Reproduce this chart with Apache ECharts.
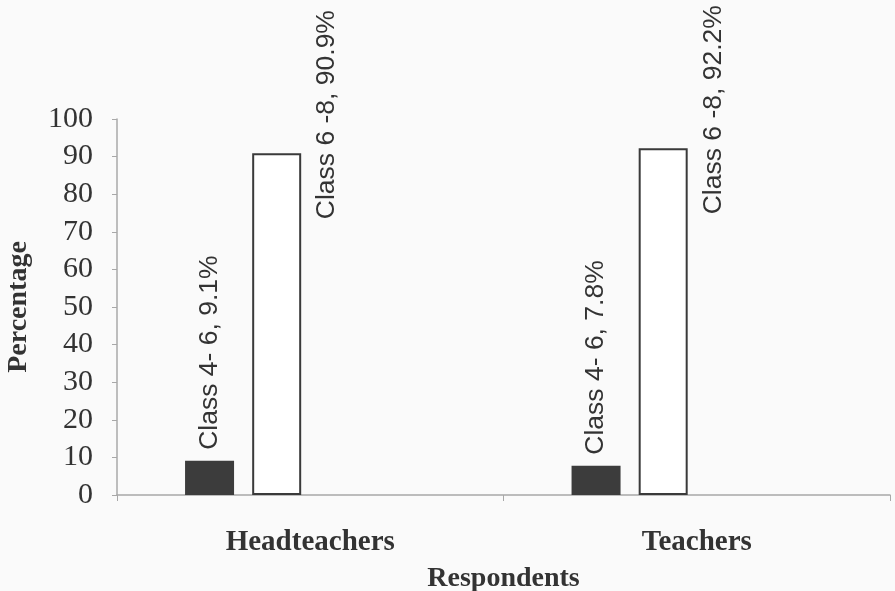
<!DOCTYPE html>
<html>
<head>
<meta charset="utf-8">
<script src="https://cdn.jsdelivr.net/npm/echarts@6/dist/echarts.min.js"></script>
<style>
html,body{margin:0;padding:0;background:#fafafa;}
#chart{width:895px;height:591px;}
</style>
</head>
<body>
<div id="chart"></div>
<script>
var categories = ['Headteachers', 'Teachers'];
var class46 = [9.1, 7.8];
var class68 = [90.9, 92.2];
var class46Labels = ['Class 4- 6, 9.1%', 'Class 4- 6, 7.8%'];
var class68Labels = ['Class 6 -8, 90.9%', 'Class 6 -8, 92.2%'];
var yTicks = [0, 10, 20, 30, 40, 50, 60, 70, 80, 90, 100];

var chart = echarts.init(document.getElementById('chart'));
var serif = 'Liberation Serif';
var sans = 'Liberation Sans';

var labelBase = {
  show: true,
  rotate: 90,
  align: 'left',
  verticalAlign: 'middle',
  fontFamily: sans,
  fontSize: 26.5,
  color: '#333'
};

chart.setOption({
  backgroundColor: '#fafafa',
  animation: false,
  grid: { left: 117, right: 5, top: 119, bottom: 96, outerBoundsMode: 'none', containLabel: false },
  xAxis: {
    type: 'category',
    data: categories,
    name: 'Respondents',
    nameLocation: 'middle',
    nameGap: 70,
    nameTextStyle: { fontFamily: serif, fontWeight: 'bold', fontSize: 28, color: '#333' },
    axisLine: { lineStyle: { color: '#a8a8a8', width: 1.5 } },
    axisTick: { show: true, length: 6, lineStyle: { color: '#a8a8a8' } },
    axisLabel: { fontFamily: serif, fontWeight: 'bold', fontSize: 29, color: '#333', margin: 33 }
  },
  yAxis: {
    type: 'value',
    min: yTicks[0],
    max: yTicks[yTicks.length - 1],
    interval: 10,
    name: 'Percentage',
    nameLocation: 'middle',
    nameGap: 84,
    nameTextStyle: { fontFamily: serif, fontWeight: 'bold', fontSize: 28, color: '#333' },
    axisLine: { show: true, lineStyle: { color: '#a8a8a8', width: 1.5 } },
    axisTick: { show: true, length: 5, lineStyle: { color: '#a8a8a8' } },
    splitLine: { show: false },
    axisLabel: { fontFamily: serif, fontSize: 30, color: '#333', margin: 24 }
  },
  series: [
    {
      name: 'Class 4-6',
      type: 'bar',
      barWidth: 49,
      barGap: '37%',
      data: class46,
      itemStyle: { color: '#3c3c3c' },
      label: Object.assign({}, labelBase, {
        position: 'top',
        distance: 11,
        formatter: function (p) { return class46Labels[p.dataIndex]; }
      })
    },
    {
      name: 'Class 6-8',
      type: 'bar',
      barWidth: 49,
      barGap: '37%',
      data: class68,
      itemStyle: { color: '#ffffff', borderColor: '#3a3a3a', borderWidth: 2 },
      label: Object.assign({}, labelBase, {
        position: [75, 66],
        formatter: function (p) { return class68Labels[p.dataIndex]; }
      })
    },
    { name: 'spare1', type: 'bar', barWidth: 49, barGap: '37%', data: [] },
    { name: 'spare2', type: 'bar', barWidth: 49, barGap: '37%', data: [] }
  ]
});
</script>
</body>
</html>
